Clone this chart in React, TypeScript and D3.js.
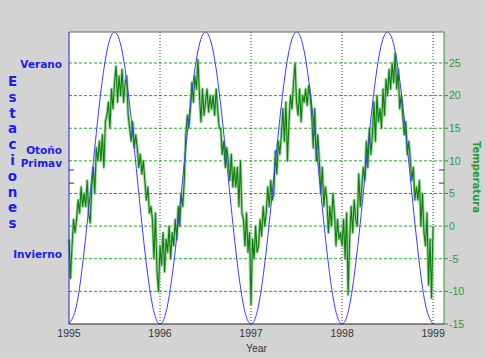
import React from "react";
import * as d3 from "d3";

const W = 486;
const H = 358;

// eje x (años) y eje derecho (temperatura)
const yearTicks = [1995, 1996, 1997, 1998, 1999];
const tempTicks = [-15, -10, -5, 0, 5, 10, 15, 20, 25];
const gridTemps = [-10, -5, 0, 5, 10, 15, 20, 25];

// eje izquierdo (estaciones), en unidades de la curva -1..1
const seasonLabels = ["Verano", "Otoño", "Primav", "Invierno"];
const seasonLabelValues = [0.78, 0.19, 0.1, -0.52];
const seasonTickValues = [0.055, -0.035];
const seasonTitle = "Estaciones";

// temperatura, 5 valores por mes
const temp1995 = [
  -2, -8, -3, 1, -1, 1, 4, 2, 6, 3, 5, 3, 7, 2, 0.5, 6, 9, 5, 12, 10,
  13, 10, 14, 9, 16, 17, 19, 15, 21, 18, 22, 24.5, 19, 23, 20, 24, 19, 22, 23, 17,
  15, 13, 16, 12, 14, 12, 9, 11, 8, 10, 7, 4, 6, 2, 3, 1, -5, 2, -7, -10,
];
const temp1996 = [
  -3, -6, -1, -7, -2, -4, 0, -5, -1, -3, 1, -2, 3, 0, 5, 3, 7, 14, 17, 15,
  18, 22, 19, 23, 21, 25.5, 20, 16, 21, 17, 19, 21, 17.5, 20, 18, 20, 17, 21, 18, 15,
  15, 11, 13, 9, 12, 10, 7, 11, 6, 9, 6, 9, 3, 10, 2, 1, -3, 2, -4, -1,
];
const temp1997 = [
  -12, -2, -5, 0, -4, -3, 1, -1.5, 3, 0, 2, 6, 3, 7, 4, 5, 11.5, 8, 13, 11,
  14, 18, 13, 19, 10, 16, 20, 18, 22, 25, 19, 17, 21, 16, 20, 19, 21, 18.5, 21.5, 20,
  17, 12, 18, 10, 14, 10, 5, 9, 3, 6, 4, -1, 3, 0, 5, 2, -3, 1, -2, -1,
];
const temp1998 = [
  -3, 1, -5, 2, -10.5, -2, 3, -1, 4, 1, 0, 8, 3, 6, 9, 7, 13, 9, 15, 11,
  14, 19, 13, 20, 16, 18, 15, 21, 17, 22.5, 20, 24, 21, 25, 22, 26.5, 21, 24, 18, 20,
  17, 14, 16, 11, 13, 10, 7, 9, 4, 6, 4, 7, 0, 5, -1, -3, 2, -9, -2, -11,
];
const temp1999 = [0];

// curva de estaciones, un valor por mes
const seasonValues = [
  -1, -0.87, -0.5, 0, 0.5, 0.87, 1, 0.87, 0.5, 0, -0.5, -0.87,
  -1, -0.87, -0.5, 0, 0.5, 0.87, 1, 0.87, 0.5, 0, -0.5, -0.87,
  -1, -0.87, -0.5, 0, 0.5, 0.87, 1, 0.87, 0.5, 0, -0.5, -0.87,
  -1, -0.87, -0.5, 0, 0.5, 0.87, 1, 0.87, 0.5, 0, -0.5, -0.87,
  -1,
];

const tempSeries: [number, number][] = [];
[temp1995, temp1996, temp1997, temp1998, temp1999].forEach((arr, k) => {
  arr.forEach((v, i) => tempSeries.push([1995 + k + i / 60, v]));
});
const seasonSeries: [number, number][] = seasonValues.map((v, i) => [1995 + i / 12, v]);

const BLUE = "#1c1cf0";
const GREEN = "#2a9a2a";

export default function App() {
  const left = 69, right = 444, top = 32, bottom = 324;

  const x = d3.scaleLinear().domain([1995, 1999.12]).range([left, right]);
  const yT = d3.scaleLinear().domain([-15, 29.75]).range([bottom, top]);
  const yS = d3.scaleLinear().domain([-1, 1]).range([bottom, top]);

  const tempLine = d3.line<[number, number]>()
    .x(d => x(d[0]))
    .y(d => yT(d[1]));
  const seasonLine = d3.line<[number, number]>()
    .x(d => x(d[0]))
    .y(d => yS(d[1]))
    .curve(d3.curveNatural);

  const letterTop = 86, letterStep = 15.8;
  const tempPath = tempLine(tempSeries) ?? "";

  return (
    <svg width={W} height={H} style={{ position: "absolute", left: 0, top: 0 }}
      fontFamily="'Liberation Sans', Arial, sans-serif">
      <rect width={W} height={H} fill="#d3d3d3" />
      <rect x={left} y={top} width={right - left} height={bottom - top} fill="#ffffff" />

      {gridTemps.map(t => (
        <line key={"h" + t} x1={left} x2={right} y1={yT(t)} y2={yT(t)}
          stroke="#22aa22" strokeWidth={1} strokeDasharray="3,2" />
      ))}
      {yearTicks.slice(1).map(yr => (
        <line key={"v" + yr} x1={x(yr)} x2={x(yr)} y1={top} y2={bottom}
          stroke="#333" strokeWidth={1} strokeDasharray="1,2" />
      ))}

      {/* temperatura: halo claro + línea oscura */}
      <path d={tempPath} fill="none" stroke="#8cc88c" strokeWidth={3} strokeLinejoin="round" opacity={0.8} />
      <path d={tempPath} fill="none" stroke="#0b7f0b" strokeWidth={1.1} strokeLinejoin="round" />
      <path d={seasonLine(seasonSeries) ?? ""} fill="none" stroke="#3b3bff" strokeWidth={1} />

      {/* marco */}
      <line x1={left} x2={right} y1={top} y2={top} stroke="#666" />
      <line x1={left} x2={right} y1={bottom} y2={bottom} stroke="#222" />
      <line x1={left} x2={left} y1={top} y2={bottom} stroke={BLUE} />
      <line x1={right} x2={right} y1={top} y2={bottom} stroke={GREEN} />

      {/* eje izquierdo */}
      {seasonTickValues.map(v => (
        <g key={"st" + v}>
          <line x1={left} x2={left + 5} y1={yS(v)} y2={yS(v)} stroke={BLUE} />
          <line x1={right - 5} x2={right} y1={yS(v)} y2={yS(v)} stroke={BLUE} />
        </g>
      ))}
      {seasonLabels.map((s, i) => (
        <text key={s} x={62} y={yS(seasonLabelValues[i])} dy="0.36em" textAnchor="end"
          fontFamily="'DejaVu Sans', sans-serif" fontWeight="bold" fontSize={10.5} fill={BLUE}>
          {s}
        </text>
      ))}
      {seasonTitle.split("").map((c, i) => (
        <text key={"e" + i} x={12.5} y={letterTop + i * letterStep} textAnchor="middle"
          fontFamily="'DejaVu Sans', sans-serif" fontWeight="bold" fontSize={13.5} fill={BLUE}>
          {c}
        </text>
      ))}

      {/* eje derecho */}
      {tempTicks.map(t => (
        <g key={"t" + t}>
          <line x1={right} x2={right + 4} y1={yT(t)} y2={yT(t)} stroke={GREEN} />
          <text x={right + 5} y={yT(t)} dy="0.36em" fontSize={10.5} fill={GREEN}>{t}</text>
        </g>
      ))}
      <text transform={`translate(477,177) rotate(90)`} textAnchor="middle" dy="0.36em"
        fontFamily="'DejaVu Sans', sans-serif" fontWeight="bold" fontSize={10} fill={GREEN}>
        Temperatura
      </text>

      {/* eje x */}
      {yearTicks.map(yr => (
        <text key={"y" + yr} x={x(yr)} y={337} textAnchor="middle" fontSize={10.5} fill="#333">
          {yr}
        </text>
      ))}
      <text x={(left + right) / 2} y={352} textAnchor="middle" fontSize={10.5} fill="#333">Year</text>
    </svg>
  );
}
